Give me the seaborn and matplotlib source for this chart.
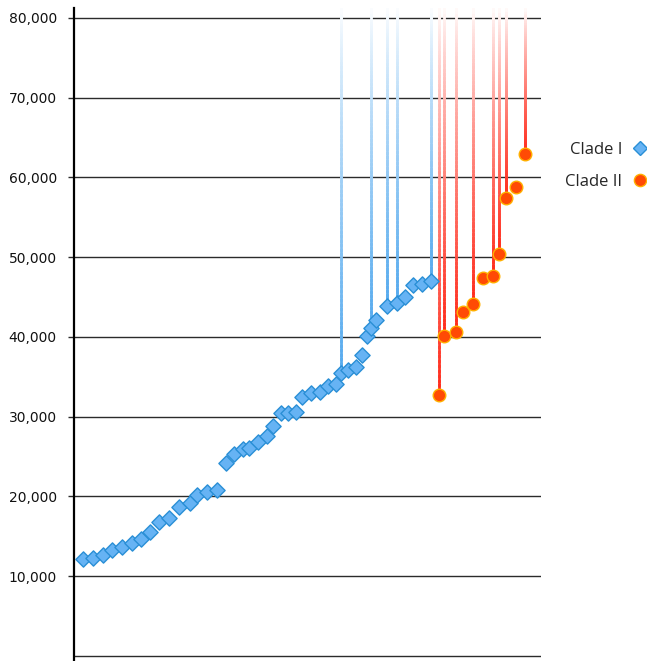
import numpy as np
import pandas as pd
import seaborn as sns
import matplotlib.pyplot as plt
from matplotlib.collections import LineCollection
from matplotlib.lines import Line2D

# values
clade1_x = [0.96, 2.03, 3.10, 4.07, 5.14, 6.18, 7.14, 8.14, 9.13, 10.20,
            11.27, 12.42, 13.20, 14.27, 15.34, 16.27, 17.13, 18.06, 18.77, 19.73,
            20.63, 21.34, 22.13, 22.94, 23.77, 24.38, 25.34, 26.34, 27.23, 28.05,
            28.59, 29.30, 30.16, 30.80, 31.34, 31.80, 32.30, 33.48, 34.55, 35.44,
            36.33, 37.23, 38.22]
clade1_y = [12100, 12300, 12600, 13250, 13600, 14150, 14650, 15550, 16750, 17250,
            18600, 19100, 20150, 20550, 20850, 24150, 25300, 25900, 26000, 26850,
            27550, 28800, 30400, 30400, 30550, 32400, 32900, 33100, 33850, 34100,
            35450, 35850, 36250, 37700, 40100, 41100, 42100, 43900, 44200, 45050,
            46500, 46650, 46950]
clade1_line = [31, 36, 38, 39, 43]   # 1-based index of points carrying a stem

clade2_x = [39.11, 39.65, 40.90, 41.68, 42.69, 43.76, 44.83, 45.54, 46.25, 47.32, 48.32]
clade2_y = [32700, 40100, 40650, 43150, 44100, 47350, 47650, 50400, 57400, 58850, 62900]
clade2_line = [1, 2, 3, 5, 7, 8, 9, 11]

yticks = [10000, 20000, 30000, 40000, 50000, 60000, 70000, 80000]

df1 = pd.DataFrame({"x": clade1_x, "y": clade1_y, "clade": "Clade I"})
df2 = pd.DataFrame({"x": clade2_x, "y": clade2_y, "clade": "Clade II"})

sns.set_theme(style="white")
plt.rcParams["font.family"] = ["DejaVu Sans"]

blue_face = "#66b3f4"
blue_edge = "#2a8fd6"
blue_line = "#55aaee"
red_face = "#ff4a05"
red_edge = "#ffb000"
red_line = "#ff2a1a"

fig = plt.figure(figsize=(6.47, 6.61), dpi=100)
ax = fig.add_axes([74 / 647, 0, 467 / 647, 653 / 661])

ymin, ymax = -660, 81250
ax.set_xlim(0, 50)
ax.set_ylim(ymin, ymax)

# horizontal grid lines
for v in [0] + yticks:
    ax.axhline(v, color="#2b2b2b", lw=1.0, zorder=1)


def stems(xs, ys, idx, color):
    # vertical stem from the point to the top, fading to white upwards
    segs, cols = [], []
    rgb = np.array(plt.matplotlib.colors.to_rgb(color))
    for i in idx:
        x0, y0 = xs[i - 1], ys[i - 1]
        n = 80
        yy = np.linspace(y0, ymax, n + 1)
        for k in range(n):
            segs.append([(x0, yy[k]), (x0, yy[k + 1])])
            a = (1 - k / n) ** 0.8
            cols.append(tuple(rgb * a + (1 - a)))
    lc = LineCollection(segs, colors=cols, linewidths=2.0, zorder=2,
                        capstyle="projecting")
    ax.add_collection(lc)


stems(clade1_x, clade1_y, clade1_line, blue_line)
stems(clade2_x, clade2_y, clade2_line, red_line)

sns.scatterplot(data=df1, x="x", y="y", marker="D", s=60, color=blue_face,
                edgecolor=blue_edge, linewidth=1.0, zorder=3, ax=ax, legend=False)
sns.scatterplot(data=df2, x="x", y="y", marker="o", s=82, color=red_face,
                edgecolor=red_edge, linewidth=1.0, zorder=3, ax=ax, legend=False)

ax.set_xlabel("")
ax.set_ylabel("")
ax.set_xticks([])
ax.set_yticks(yticks)
ax.set_yticklabels([f"{v:,}" for v in yticks], fontsize=10, color="#111111")
ax.tick_params(axis="y", length=4.3, width=1.0, color="#2b2b2b", pad=8, left=True)

for s in ["top", "right", "bottom"]:
    ax.spines[s].set_visible(False)
ax.spines["left"].set_color("black")
ax.spines["left"].set_linewidth(1.6)
ax.spines["left"].set_zorder(4)

handles = [
    Line2D([], [], ls="none", marker="D", ms=7.2, mfc=blue_face, mec=blue_edge, mew=1.0),
    Line2D([], [], ls="none", marker="o", ms=8.8, mfc=red_face, mec=red_edge, mew=1.0),
]
ax.legend(handles, ["Clade I", "Clade II"], loc="center left",
          bbox_to_anchor=(565 / 647, (661 - 166) / 661), bbox_transform=fig.transFigure,
          frameon=False, markerfirst=False, borderpad=0, borderaxespad=0,
          handlelength=1.0, handletextpad=0.55, labelspacing=0.95,
          prop={"family": "Open Sans", "size": 12})

plt.savefig("out.png", dpi=100)
